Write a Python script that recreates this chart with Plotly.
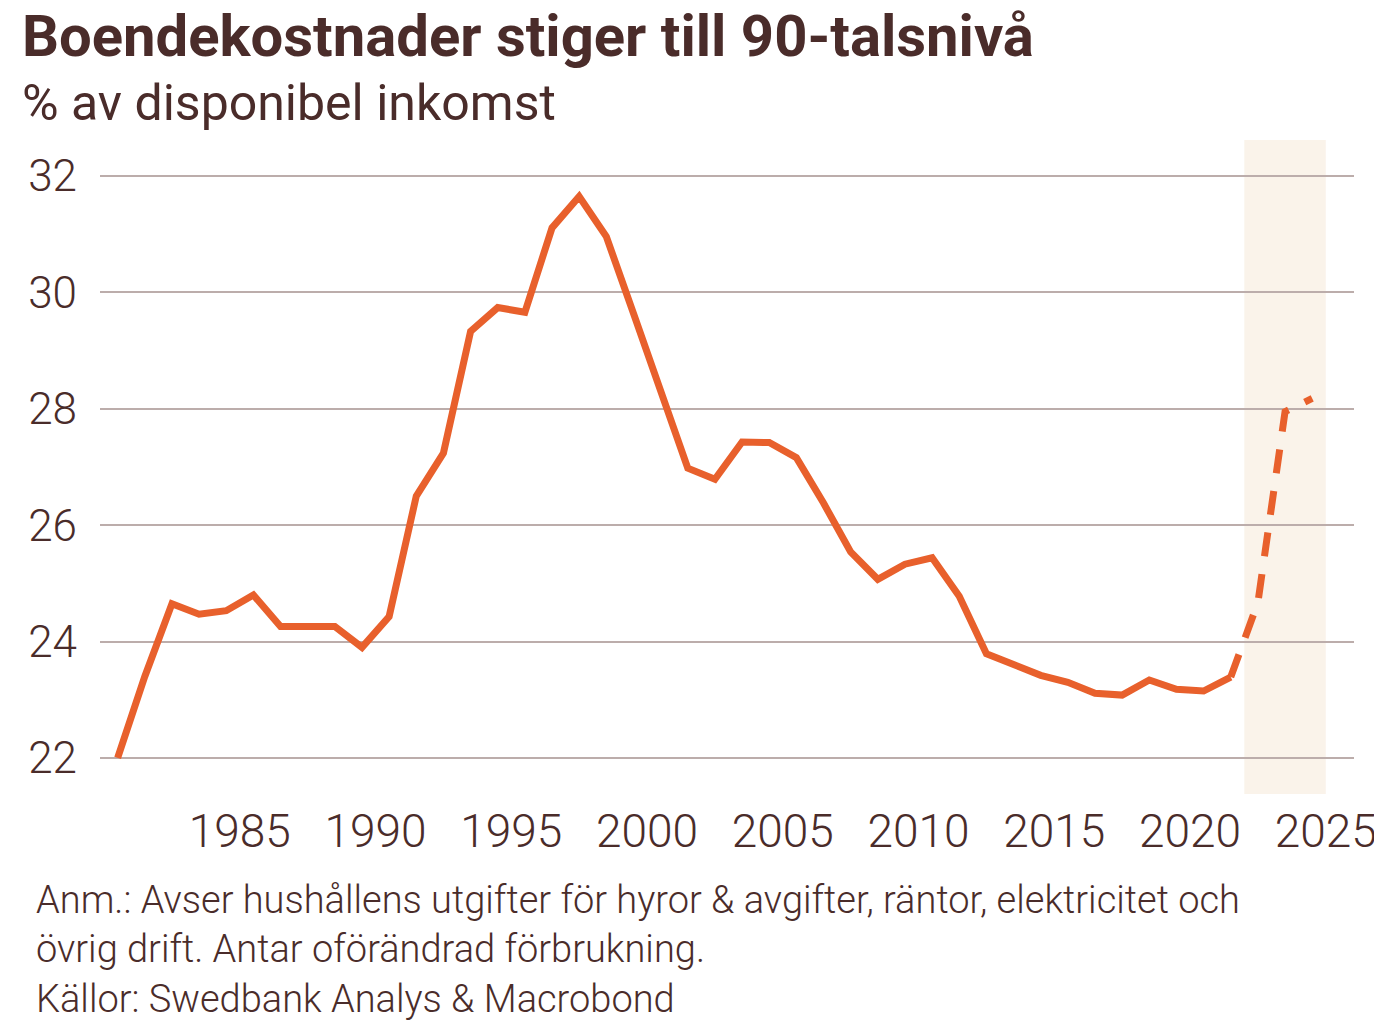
import numpy as np
import plotly.graph_objects as go

# data (annual, plotted mid-year)
years = list(range(1980, 2022))
values = [22.0, 23.4, 24.65, 24.47, 24.53, 24.8, 24.26, 24.27, 24.26, 23.9,
          24.43, 26.5, 27.24, 29.33, 29.74, 29.66, 31.11, 31.65, 30.96, 29.64,
          28.28, 26.98, 26.79, 27.43, 27.42, 27.16, 26.38, 25.54, 25.07, 25.33,
          25.44, 24.78, 23.79, 23.6, 23.42, 23.3, 23.11, 23.08, 23.34, 23.18,
          23.15, 23.39]
fc_years = [2021, 2022, 2023, 2024]
fc_values = [23.39, 24.67, 27.95, 28.18]
tick_years = [1985, 1990, 1995, 2000, 2005, 2010, 2015, 2020, 2025]
y_ticks = [22, 24, 26, 28, 30, 32]

txt = '#4a2c2a'
orange = '#e8602c'

fig = go.Figure()

# forecast band
fig.add_shape(type='rect', xref='x', yref='paper', x0=2022, x1=2025, y0=0, y1=1,
              fillcolor='#faf3ea', line_width=0, layer='below')

fig.add_trace(go.Scatter(x=np.array(years) + 0.5, y=values, mode='lines',
                         line=dict(color=orange, width=7), hoverinfo='skip'))
fig.add_trace(go.Scatter(x=np.array(fc_years) + 0.5, y=fc_values, mode='lines',
                         line=dict(color=orange, width=7, dash='24px,18px'), hoverinfo='skip'))

fig.update_layout(
    width=1382, height=1022, showlegend=False,
    plot_bgcolor='white', paper_bgcolor='white',
    font=dict(family='Roboto', color=txt, weight=300),
    margin=dict(l=92, r=36, t=132, b=236),
)
fig.update_xaxes(range=[1979.85, 2026.04], tickvals=tick_years, showgrid=False,
                 zeroline=False, showline=False, ticks='', ticklabelstandoff=6,
                 tickfont=dict(size=46, color=txt, weight=300))
fig.update_yaxes(range=[21.38, 32.62], tickvals=y_ticks, gridcolor='#bcadab', gridwidth=1.5,
                 zeroline=False, showline=False, ticks='', ticklabelstandoff=22,
                 tickfont=dict(size=44, color=txt, weight=300))

fig.add_annotation(text='Boendekostnader stiger till 90-talsnivå', xref='paper', yref='paper',
                   x=0, y=1.0, yshift=140, xshift=-80, xanchor='left', yanchor='top', showarrow=False,
                   font=dict(size=58, color=txt, weight=700))
fig.add_annotation(text='% av disponibel inkomst', xref='paper', yref='paper',
                   x=0, y=1.0, yshift=68, xshift=-80, xanchor='left', yanchor='top', showarrow=False,
                   font=dict(size=50, color=txt, weight=400))
fig.add_annotation(text='Anm.: Avser hushållens utgifter för hyror & avgifter, räntor, elektricitet och<br>'
                        'övrig drift. Antar oförändrad förbrukning.<br>Källor: Swedbank Analys & Macrobond',
                   xref='paper', yref='paper', x=0, y=0, yshift=-82, xshift=-66,
                   xanchor='left', yanchor='top', align='left', showarrow=False,
                   font=dict(size=38, color=txt, weight=300))

fig.write_html('out.html')
